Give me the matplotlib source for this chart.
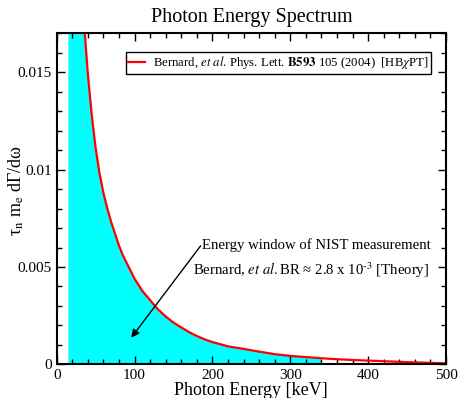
import matplotlib
matplotlib.use('Agg')
import matplotlib.pyplot as plt
import numpy as np
from matplotlib.ticker import MultipleLocator

plt.rcParams['font.family'] = ['Liberation Serif', 'DejaVu Serif']
plt.rcParams['mathtext.fontset'] = 'stix'

# ====================== DATA ======================
energy = [15, 20, 25, 30, 35, 40, 45, 50, 55, 60, 65, 70, 75, 80, 85, 90, 95,
          100, 110, 120, 130, 140, 150, 160, 170, 180, 190, 200, 220, 240, 260,
          280, 300, 320, 340, 360, 380, 400, 425, 450, 475, 500]
spectrum = [0.060, 0.040, 0.028, 0.0215, 0.0176, 0.0149, 0.0128, 0.0111,
            0.0098, 0.0088, 0.0080, 0.0073, 0.0067, 0.0061, 0.0056, 0.0052,
            0.0048, 0.0044, 0.00377, 0.0033, 0.00283, 0.00246, 0.00215,
            0.0019, 0.00166, 0.00146, 0.00129, 0.00115, 0.00093, 0.00080,
            0.00066, 0.00053, 0.00044, 0.00038, 0.00032, 0.00027, 0.00023,
            0.00020, 0.00016, 0.00012, 0.00009, 0.00006]

window_lo, window_hi = 15, 340  # NIST energy window [keV]

legend_label = (r'Bernard, $\mathit{et}$ $\mathit{al}$. Phys. Lett. $\mathbf{B593}$ 105 (2004)  '
                r'[HB$\chi$PT]')
note_line1 = 'Energy window of NIST measurement'
note_line2 = r'Bernard, $\mathit{et}$ $\mathit{al.}$BR ≈ 2.8 x 10$^{\text{-3}}$ [Theory]'

# ====================== PLOT ======================
E = np.array(energy)
S = np.array(spectrum)

fig = plt.figure(figsize=(4.58, 3.98), dpi=100)
ax = fig.add_axes([0.1238, 0.0842, 0.85, 0.8328])

inwin = (E >= window_lo) & (E <= window_hi)
ax.fill_between(E, 0, S, where=inwin, color='#00ffff', lw=0)
ax.plot(E, S, color='red', lw=1.6, label=legend_label)

ax.set_xlim(0, 500)
ax.set_ylim(0, 0.017)

ax.xaxis.set_major_locator(MultipleLocator(100))
ax.xaxis.set_minor_locator(MultipleLocator(20))
ax.yaxis.set_major_locator(MultipleLocator(0.005))
ax.yaxis.set_minor_locator(MultipleLocator(0.001))
ax.set_yticks([0, 0.005, 0.01, 0.015])
ax.set_yticklabels(['0', '0.005', '0.01', '0.015'])
ax.tick_params(which='both', direction='in', top=True, right=True, labelsize=11)
ax.tick_params(which='major', length=6, width=1)
ax.tick_params(which='minor', length=3.5, width=1)
for s in ax.spines.values():
    s.set_linewidth(1.5)

ax.set_title('Photon Energy Spectrum', fontsize=14.5, pad=8)
ax.set_xlabel('Photon Energy [keV]', fontsize=13, labelpad=0)
ax.set_ylabel(r'τ$_\mathrm{n}$ m$_\mathrm{e}$ dΓ/dω', fontsize=13)
ax.yaxis.set_label_coords(-0.078, 0.524)

leg = ax.legend(loc='upper right', bbox_to_anchor=(0.961, 0.943), fontsize=9.2,
                fancybox=False, framealpha=1, edgecolor='black',
                handlelength=1.3, handletextpad=0.6, borderpad=0.2,
                borderaxespad=0)
leg.get_frame().set_linewidth(1)

ax.text(480, 0.0061, note_line1, ha='right', va='center', fontsize=10.6)
ax.text(478, 0.00484, note_line2, ha='right', va='center', fontsize=10.6)
ax.annotate('', xy=(93.6, 0.00126), xytext=(187, 0.0062),
            arrowprops=dict(arrowstyle='-|>', color='black', lw=1,
                            mutation_scale=12))

plt.savefig('out.png', dpi=100)
